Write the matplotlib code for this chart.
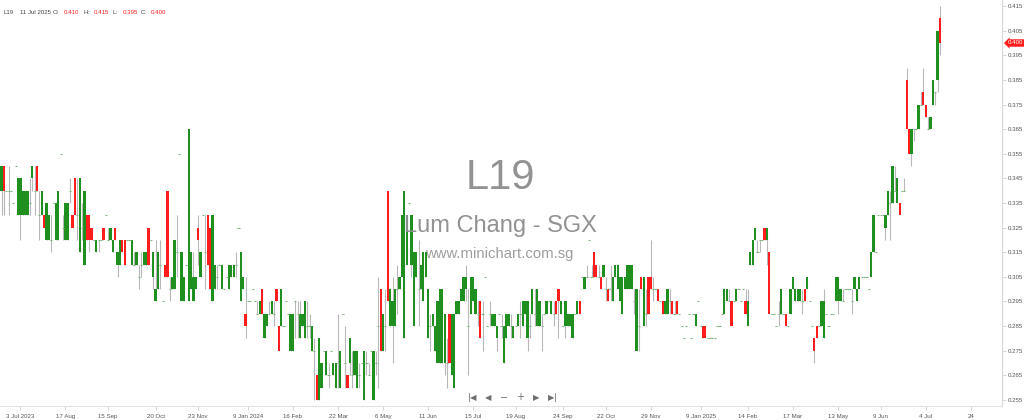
import numpy as np
import matplotlib
matplotlib.use("Agg")
import matplotlib.pyplot as plt

# daily bars of L19 (Lum Chang, SGX), prices in thousandths of a dollar
open_ = [
    340, 350, 340, 340, 340, 335, 350, 330, 330, 330,
    330, 330, 335, 345, 340, 350, 330, 330, 330, 320,
    320, 320, 335, 320, 320, 355, 325, 320, 320, 340,
    330, 345, 330, 315, 325, 310, 330, 330, 325, 320,
    315, 320, 320, 325, 330, 320, 320, 315, 325, 310, 310,
    320, 320, 320, 320, 310, 310, 310, 305, 310, 310, 310,
    325, 320, 305, 295, 300, 310, 295, 310, 340, 300,
    300, 300, 315, 355, 295, 295, 310, 295, 300, 295,
    300, 325, 305, 330, 315, 330, 325, 295, 300, 305,
    310, 300, 300, 305, 300, 305, 305, 310, 325, 295, 300,
    290, 295, 295, 300, 295, 290, 290, 300, 280, 285, 290,
    290, 290, 300, 285, 285, 285, 295, 290, 275, 275, 295, 290, 280,
    285, 280, 285, 285, 275, 275, 265, 255, 260, 275,
    265, 265, 275, 265, 260, 270, 260, 290, 270, 265,
    270, 265, 265, 260, 265, 270, 255, 270, 265, 275,
    255, 270, 285, 300, 275, 285, 340, 285, 285, 285,
    300, 300, 305, 280, 310, 335, 310, 285, 305, 300,
    300, 295, 305, 280, 285, 285, 275, 270, 270,
    270, 270, 270, 290, 265, 260, 290, 290, 295,
    295, 300, 285, 290, 295, 290, 290, 295, 290,
    305, 285, 290, 285, 285, 280, 290, 285, 270, 280,
    285, 285, 280, 285, 285, 290, 285, 290, 280, 285,
    290, 290, 285, 285, 285, 290, 290, 295, 290,
    290, 295, 300, 290, 285, 285, 285, 285, 280, 290,
    290, 295, 305, 300, 305, 320, 305, 315, 310, 305,
    305, 305, 300, 300, 300, 295, 305, 300, 295, 290,
    300, 300, 300, 300, 295, 275, 285, 305, 285, 290,
    305, 305, 300, 300, 300, 295, 295, 290, 290, 295,
    295, 290, 295, 290, 285, 280, 285, 290, 280, 290,
    285, 295, 285, 285, 285, 280, 280, 280, 280, 285,
    285, 290, 290, 295, 295, 295, 295, 295, 300, 295,
    300, 295, 285, 310, 310, 320, 315, 320, 320, 325,
    320, 315, 290, 290, 285, 290, 290, 290, 290, 285,
    290, 300, 295, 295, 295, 295, 300, 300, 295, 285,
    280, 285, 285, 285, 280, 290, 285, 290, 290, 295,
    295, 295, 295, 300, 300, 300, 295, 300, 295, 300,
    305, 305, 305, 300, 305, 315, 315, 330, 330, 330,
    325, 330, 335, 335, 340, 335, 335, 340, 340, 385,
    365, 355, 365, 365, 365, 375, 380, 375, 365, 365,
    375, 380, 385, 410,
]
high = [
    350, 350, 340, 350, 340, 335, 350, 345, 345, 340,
    340, 340, 345, 350, 350, 350, 340, 340, 330, 335,
    330, 330, 335, 335, 340, 355, 330, 335, 335, 345,
    330, 345, 345, 345, 335, 340, 330, 330, 325, 320,
    320, 320, 320, 325, 330, 325, 325, 320, 325, 315, 320,
    320, 320, 320, 320, 320, 315, 315, 310, 315, 315, 315,
    325, 320, 315, 320, 315, 320, 295, 310, 340, 305,
    305, 320, 330, 355, 315, 305, 310, 365, 315, 315,
    305, 330, 315, 330, 330, 330, 325, 330, 310, 310,
    310, 310, 300, 305, 310, 310, 310, 315, 325, 315, 305,
    305, 295, 295, 300, 295, 295, 295, 300, 290, 290, 295,
    295, 295, 300, 285, 300, 285, 295, 290, 290, 290, 295, 295, 295,
    290, 295, 295, 290, 285, 280, 265, 280, 270, 275,
    275, 270, 275, 270, 270, 290, 275, 290, 285, 265,
    280, 275, 275, 275, 270, 270, 275, 275, 270, 275,
    275, 275, 305, 300, 290, 300, 340, 300, 305, 300,
    310, 305, 330, 340, 330, 335, 330, 315, 315, 320,
    310, 315, 315, 300, 290, 290, 285, 295, 300,
    300, 290, 280, 290, 290, 290, 295, 295, 300,
    305, 310, 300, 305, 305, 300, 295, 295, 295,
    305, 285, 295, 290, 290, 285, 290, 290, 285, 290,
    290, 290, 285, 285, 290, 295, 295, 295, 295, 290,
    300, 300, 300, 295, 290, 290, 295, 295, 295,
    295, 295, 300, 295, 285, 295, 290, 290, 290, 290,
    295, 295, 305, 305, 310, 320, 310, 315, 310, 310,
    305, 310, 305, 300, 310, 305, 310, 310, 305, 305,
    305, 310, 310, 310, 300, 300, 300, 305, 305, 300,
    305, 320, 305, 300, 300, 295, 295, 295, 300, 300,
    295, 295, 295, 290, 285, 280, 285, 290, 280, 290,
    290, 295, 285, 285, 285, 280, 280, 280, 280, 285,
    285, 290, 300, 300, 300, 295, 295, 300, 300, 295,
    300, 300, 300, 315, 320, 325, 320, 320, 320, 325,
    325, 315, 290, 290, 285, 295, 300, 290, 290, 285,
    300, 305, 300, 300, 300, 300, 300, 305, 295, 285,
    280, 285, 285, 295, 300, 290, 285, 290, 290, 305,
    305, 300, 300, 300, 300, 300, 300, 305, 300, 305,
    305, 305, 305, 300, 315, 330, 315, 330, 330, 330,
    330, 340, 340, 350, 350, 345, 335, 340, 345, 390,
    365, 365, 365, 365, 375, 380, 390, 375, 370, 370,
    385, 380, 405, 415,
]
low = [
    330, 330, 340, 330, 340, 335, 350, 330, 320, 330,
    330, 330, 330, 340, 330, 340, 320, 330, 325, 320,
    320, 315, 335, 320, 320, 355, 320, 320, 320, 335,
    325, 330, 320, 315, 320, 310, 320, 315, 320, 320,
    315, 315, 320, 320, 330, 320, 320, 315, 320, 305, 310,
    315, 310, 320, 320, 310, 310, 310, 300, 305, 310, 310,
    310, 320, 300, 295, 300, 300, 295, 305, 305, 295,
    300, 300, 305, 355, 295, 295, 310, 295, 300, 295,
    300, 310, 305, 330, 300, 310, 300, 295, 300, 300,
    310, 300, 300, 305, 300, 305, 305, 305, 325, 295, 300,
    280, 295, 295, 300, 295, 290, 290, 290, 280, 285, 290,
    290, 285, 295, 275, 285, 285, 295, 290, 275, 275, 280, 280, 280,
    285, 280, 280, 280, 275, 255, 255, 255, 260, 275,
    265, 260, 275, 265, 260, 260, 260, 290, 260, 260,
    265, 260, 265, 260, 260, 270, 255, 265, 265, 275,
    255, 265, 260, 275, 275, 275, 295, 285, 270, 285,
    290, 300, 305, 280, 310, 335, 305, 285, 305, 285,
    300, 295, 305, 280, 275, 285, 275, 270, 270,
    270, 265, 260, 270, 265, 260, 290, 290, 295,
    295, 295, 265, 290, 295, 290, 285, 280, 275,
    305, 285, 285, 285, 285, 275, 290, 280, 270, 280,
    285, 280, 280, 285, 285, 280, 285, 290, 275, 280,
    290, 285, 285, 285, 275, 290, 290, 295, 290,
    285, 290, 280, 290, 285, 280, 285, 285, 280, 290,
    290, 290, 305, 300, 305, 320, 305, 305, 305, 305,
    300, 305, 295, 295, 295, 295, 305, 300, 295, 290,
    300, 300, 300, 300, 290, 275, 275, 300, 285, 285,
    290, 300, 295, 300, 295, 295, 290, 290, 290, 290,
    290, 290, 290, 290, 285, 280, 285, 290, 280, 290,
    285, 295, 285, 280, 280, 280, 280, 280, 280, 285,
    285, 290, 290, 295, 295, 285, 295, 295, 300, 295,
    300, 290, 285, 310, 310, 320, 315, 315, 320, 320,
    310, 290, 290, 290, 285, 285, 290, 290, 285, 285,
    290, 300, 295, 295, 295, 290, 295, 300, 295, 285,
    270, 280, 285, 285, 280, 290, 285, 290, 290, 295,
    290, 295, 295, 300, 300, 300, 290, 300, 295, 300,
    305, 305, 305, 300, 305, 315, 315, 330, 330, 330,
    320, 330, 320, 335, 340, 335, 330, 340, 340, 365,
    355, 350, 360, 365, 365, 375, 375, 370, 365, 365,
    375, 375, 380, 395,
]
close = [
    350, 340, 340, 340, 340, 335, 350, 345, 345, 340,
    340, 340, 335, 350, 340, 340, 330, 340, 325, 335,
    330, 320, 335, 335, 340, 355, 325, 335, 335, 340,
    325, 330, 330, 345, 325, 340, 320, 320, 320, 320,
    320, 320, 320, 320, 330, 320, 325, 320, 320, 315, 320,
    315, 310, 320, 320, 320, 310, 315, 305, 310, 315, 315,
    310, 320, 315, 300, 315, 310, 295, 305, 305, 300,
    305, 320, 315, 355, 315, 305, 310, 365, 315, 305,
    305, 320, 315, 330, 315, 310, 300, 330, 310, 305,
    310, 310, 300, 305, 310, 310, 310, 310, 325, 315, 305,
    285, 295, 295, 300, 295, 290, 295, 290, 290, 290, 290,
    295, 290, 295, 275, 300, 285, 295, 290, 290, 290, 295, 290, 290,
    290, 295, 285, 285, 285, 275, 255, 280, 270, 275,
    275, 265, 275, 270, 270, 270, 275, 290, 270, 260,
    280, 265, 275, 275, 265, 270, 275, 270, 265, 275,
    275, 270, 285, 275, 290, 285, 295, 300, 295, 300,
    300, 305, 330, 340, 330, 335, 330, 315, 315, 300,
    310, 315, 315, 300, 285, 290, 285, 295, 300,
    300, 290, 270, 270, 290, 290, 295, 295, 300,
    305, 305, 285, 305, 305, 300, 290, 280, 290,
    305, 285, 290, 290, 290, 285, 290, 285, 285, 290,
    290, 285, 285, 285, 290, 290, 295, 295, 295, 285,
    300, 290, 300, 295, 285, 290, 295, 295, 295,
    290, 290, 295, 295, 285, 295, 290, 290, 290, 290,
    295, 290, 305, 305, 305, 320, 305, 305, 305, 305,
    300, 310, 300, 295, 300, 305, 310, 310, 305, 305,
    305, 310, 310, 310, 295, 300, 285, 300, 305, 290,
    290, 300, 300, 300, 295, 295, 290, 295, 300, 295,
    290, 290, 290, 290, 285, 280, 285, 290, 280, 290,
    290, 295, 285, 280, 280, 280, 280, 280, 280, 285,
    285, 290, 300, 300, 295, 285, 295, 300, 300, 295,
    300, 290, 295, 315, 320, 325, 315, 320, 320, 320,
    325, 290, 290, 290, 285, 290, 300, 290, 285, 285,
    300, 305, 300, 300, 300, 295, 295, 305, 295, 285,
    275, 280, 285, 295, 295, 290, 285, 290, 290, 305,
    305, 300, 295, 300, 300, 300, 295, 305, 300, 305,
    305, 305, 305, 300, 315, 330, 315, 330, 330, 330,
    330, 340, 335, 350, 340, 345, 330, 340, 340, 365,
    355, 365, 365, 365, 375, 375, 375, 370, 365, 370,
    385, 380, 405, 400,
]

# date labels and the bar they sit under
date_labels = ["3 Jul 2023", "17 Aug", "15 Sep", "20 Oct", "23 Nov", "9 Jan 2024",
               "16 Feb", "22 Mar", "6 May", "11 Jun", "15 Jul", "19 Aug", "24 Sep",
               "22 Oct", "29 Nov", "9 Jan 2025", "14 Feb", "17 Mar", "13 May",
               "9 Jun", "4 Jul", "24"]
date_bars = [8, 27, 45, 65, 83, 104, 123, 142, 161, 180, 199, 217, 237,
             255, 274, 295, 315, 334, 353, 371, 390, 409]

price_ticks = [255, 265, 275, 285, 295, 305, 315, 325, 335, 345,
               355, 365, 375, 385, 395, 405, 415]

symbol = "L19"
name = "Lum Chang - SGX"
last_date = "11 Jul 2025"

assert len(open_) == len(high) == len(low) == len(close)

o = np.array(open_) / 1000
h = np.array(high) / 1000
l = np.array(low) / 1000
c = np.array(close) / 1000
hi = np.maximum(h, np.maximum(o, c))
lo = np.minimum(l, np.minimum(o, c))
x = np.arange(len(o))

UP = "#1f8f1f"
DOWN = "#ff1c1c"
WICK = "#b8b8b8"
FLAT = "#7fb47f"
FONT = "Liberation Sans"
SMALL = 4.4

fig = plt.figure(figsize=(10.24, 4.2), dpi=100)
fig.patch.set_facecolor("white")
ax = fig.add_axes([0, 14 / 420, 1002 / 1024, 406 / 420])

# wicks
has_range = hi > lo
ax.vlines(x[has_range], lo[has_range], hi[has_range], color=WICK, lw=0.8, zorder=1)

# bodies
up = c > o
dn = c < o
ax.bar(x[up], (c - o)[up], bottom=o[up], width=0.95, color=UP, lw=0, zorder=2)
ax.bar(x[dn], (o - c)[dn], bottom=c[dn], width=0.95, color=DOWN, lw=0, zorder=2)
flat = c == o
ax.hlines(c[flat], x[flat] - 0.45, x[flat] + 0.45, color=FLAT, lw=0.8, zorder=2)

ax.set_xlim(-0.633, 422.2)
ax.set_ylim(0.25256, 0.41744)

ax.set_xticks(date_bars)
ax.set_xticklabels(date_labels, fontfamily=FONT)
ax.yaxis.tick_right()
ax.set_yticks(np.array(price_ticks) / 1000)
ax.set_yticklabels(["%.3f" % (p / 1000) for p in price_ticks], fontfamily=FONT)
ax.tick_params(axis="x", length=3, width=0.6, color="#cfcfcf",
               labelsize=SMALL, labelcolor="#555555", pad=2.5)
ax.tick_params(axis="y", length=3, width=0.6, color="#cfcfcf",
               labelsize=SMALL, labelcolor="#555555", pad=1.2)
for side in ("top", "left"):
    ax.spines[side].set_visible(False)
ax.spines["right"].set_color("#d6d6d6")
ax.spines["bottom"].set_color("#e2e2e2")
ax.spines["right"].set_linewidth(0.8)
ax.spines["bottom"].set_linewidth(0.8)

# header line: symbol, date and last OHLC
def px(xp, yp):
    return xp / 1024, 1 - yp / 420

hdr_y = 13.5
fig.text(*px(3, hdr_y), symbol, fontsize=SMALL, color="#444444", family=FONT, va="baseline")
fig.text(*px(19.5, hdr_y), last_date, fontsize=SMALL, color="#444444", family=FONT, va="baseline")
for lab, val, xl, xv in [("O:", o[-1], 53, 64), ("H:", h[-1], 83, 94),
                         ("L:", l[-1], 112.5, 123), ("C:", c[-1], 141, 151)]:
    fig.text(*px(xl, hdr_y), lab, fontsize=SMALL, color="#444444", family=FONT, va="baseline")
    fig.text(*px(xv, hdr_y), "%.3f" % val, fontsize=SMALL, color="#ff2020", family=FONT, va="baseline")

# last price tag on the price axis
fig.text(*px(1008, 43), "%.3f" % c[-1], fontsize=SMALL, color="white", family=FONT,
         ha="left", va="center",
         bbox=dict(boxstyle="larrow,pad=0.2", fc="#ff1c1c", ec="none"))

# watermark
fig.text(*px(500, 189), symbol, fontsize=30, color="#8c8c8c", family=FONT,
         ha="center", va="baseline", alpha=0.95)
fig.text(*px(500, 232), name, fontsize=17, color="#8c8c8c", family=FONT,
         ha="center", va="baseline", alpha=0.95)
fig.text(*px(499, 258), "www.minichart.com.sg", fontsize=10.7, color="#999999",
         family=FONT, ha="center", va="baseline", alpha=0.95)

# navigation buttons
nav_y = 397.5
NAV = "#6f6f6f"
fig.text(*px(469.5, nav_y), "|", fontsize=6.5, color=NAV, ha="center", va="center", family="DejaVu Sans")
fig.text(*px(473.5, nav_y), "◀", fontsize=6, color=NAV, ha="center", va="center", family="DejaVu Sans")
fig.text(*px(488, nav_y), "◀", fontsize=6, color=NAV, ha="center", va="center", family="DejaVu Sans")
fig.text(*px(504, nav_y), "−", fontsize=7, color=NAV, ha="center", va="center", family="DejaVu Sans")
fig.text(*px(520, nav_y), "+", fontsize=7, color=NAV, ha="center", va="center", family="DejaVu Sans")
fig.text(*px(536, nav_y), "▶", fontsize=6, color=NAV, ha="center", va="center", family="DejaVu Sans")
fig.text(*px(551.5, nav_y), "▶", fontsize=6, color=NAV, ha="center", va="center", family="DejaVu Sans")
fig.text(*px(555.5, nav_y), "|", fontsize=6.5, color=NAV, ha="center", va="center", family="DejaVu Sans")

fig.savefig("out.png", dpi=100, facecolor="white")
